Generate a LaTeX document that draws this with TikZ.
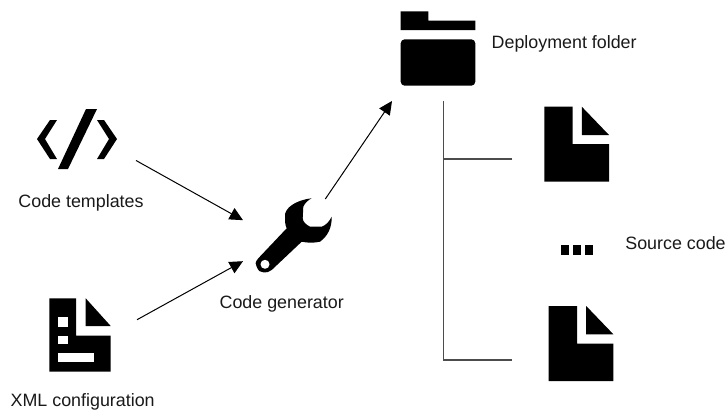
\documentclass[tikz,border=0pt]{standalone}
\usepackage{fontspec}
\setmainfont{Liberation Sans}
\usetikzlibrary{arrows.meta, positioning}

\begin{document}
\begin{tikzpicture}[x=0.75pt,y=-0.75pt,
 icon node/.style={inner sep=0pt,outer sep=0pt},
 label node/.style={inner sep=0pt,outer sep=0pt,text=black!90,font=\fontsize{13.4}{16}\selectfont},
 flow line/.style={line width=0.75pt,-{Triangle[length=10pt,width=9.5pt]}},
 tree line/.style={line width=0.85pt,black!70}]
  \useasboundingbox (0,0) rectangle (726,412);

  \node[icon node,minimum width=88.5pt,minimum height=45pt] (code) at (77,139) {};
  \node[icon node,minimum width=85.5pt,minimum height=55.5pt] (xml) at (80,335) {};
  \node[icon node,minimum width=66.75pt,minimum height=54.75pt] (generator) at (287.5,235.5) {};
  \node[icon node,minimum width=76.95pt,minimum height=78.75pt] (folder) at (443.3,48.5) {};
  \node[icon node,minimum width=72.5pt,minimum height=56.25pt] (doc one) at (560.7,144.2) {};
  \node[icon node,minimum width=76.2pt,minimum height=56.25pt] (doc two) at (562.5,343.5) {};
  \node[icon node,minimum width=24.5pt,minimum height=7.5pt] (dots) at (577,250) {};

  \node[label node,xshift=3pt] (code label) [below=48pt of code.center,anchor=center] {Code templates};
  \node[label node,xshift=2pt] (xml label) [below=50.5pt of xml.center,anchor=center] {XML configuration};
  \node[label node,xshift=-4.35pt] (generator label) [below=51.6pt of generator.center,anchor=center] {Code generator};
  \node[label node,yshift=3.4pt] (folder label) [right=-2.2pt of folder.east,anchor=west] {Deployment folder};
  \node[label node,yshift=5pt] (source label) [right=24pt of dots.east,anchor=west] {Source code};

  % code brackets
  \fill (37,139) -- (50,120) -- (57,120) -- (45,139) -- (57,159) -- (50,159) -- cycle;
  \fill (58,169) -- (68,169) -- (97,109) -- (86,109) -- cycle;
  \fill (97,120) -- (104,120) -- (117,139) -- (104,159) -- (97,159) -- (109,139) -- cycle;

  % xml sheet
  \fill (49.3,298.3) -- (76,298.3) -- (76,335.7) -- (110.7,335.7) -- (110.7,371.7) -- (49.3,371.7) -- cycle;
  \fill (85.7,298.3) -- (85.7,326) -- (110.7,326) -- cycle;
  \fill[white] (58.3,317.3) rectangle (68.3,326.7);
  \fill[white] (58.3,335.7) rectangle (68.3,344.3);
  \fill[white] (58.3,353.3) rectangle (94.3,362.3);

  % wrench
  \fill (311.7,198.3) .. controls (296,200) and (284,208) .. (285,216.7)
    .. controls (285,221) and (285,225) .. (286.7,228.3)
    -- (258.3,258.3) .. controls (255,262) and (255,265) .. (256.7,266.7)
    .. controls (258,271) and (261,272.5) .. (263.3,272.3)
    .. controls (267,272.5) and (269,272) .. (271.7,270)
    -- (301.7,241.7) .. controls (308,243) and (314,243) .. (320,241.7)
    .. controls (328,236) and (332,227) .. (331.7,216.7)
    .. controls (329,222) and (326,225) .. (321.7,226.7)
    -- (310,226.7) .. controls (306,224.5) and (303,222) .. (302.7,218.3)
    -- (303.3,206.7) .. controls (305,203) and (308,200) .. (311.7,198.3) -- cycle;
  \fill[white] (265,264.3) circle (4.5);

  % folder
  \fill (400.7,11.3) -- (428.3,11.3) -- (428.3,20.7) -- (475.3,20.7) -- (475.3,30) -- (400.7,30) -- cycle;
  \fill[rounded corners=3pt] (400.7,39.3) -- (475.3,39.3) -- (475.3,85.7) -- (400.7,85.7) -- cycle;

  % sheets
  \foreach \x/\y in {544.3/106.7, 548.7/306} {
   \fill (\x,\y) -- (\x+28.4,\y) -- (\x+28.4,\y+37.5) -- (\x+64.7,\y+37.5) -- (\x+64.7,\y+75) -- (\x,\y+75) -- cycle;
   \fill (\x+37.5,\y) -- (\x+37.5,\y+28.3) -- (\x+64.7,\y+28.3) -- cycle;}

  \foreach \x in {560.7, 572.7, 585.3} {
   \fill (\x,245.3) rectangle (\x+8,255);}

  \draw[flow line] (code.-20) -- (generator.161);
  \draw[flow line] (xml.15) -- (generator.210);
  \draw[flow line] (generator.44) -- (folder.south west);
  \draw[tree line] (folder.south) |- (doc two.198);
  \draw[tree line] (doc one.197) -- (doc one.197 -| folder.south);
\end{tikzpicture}
\end{document}
